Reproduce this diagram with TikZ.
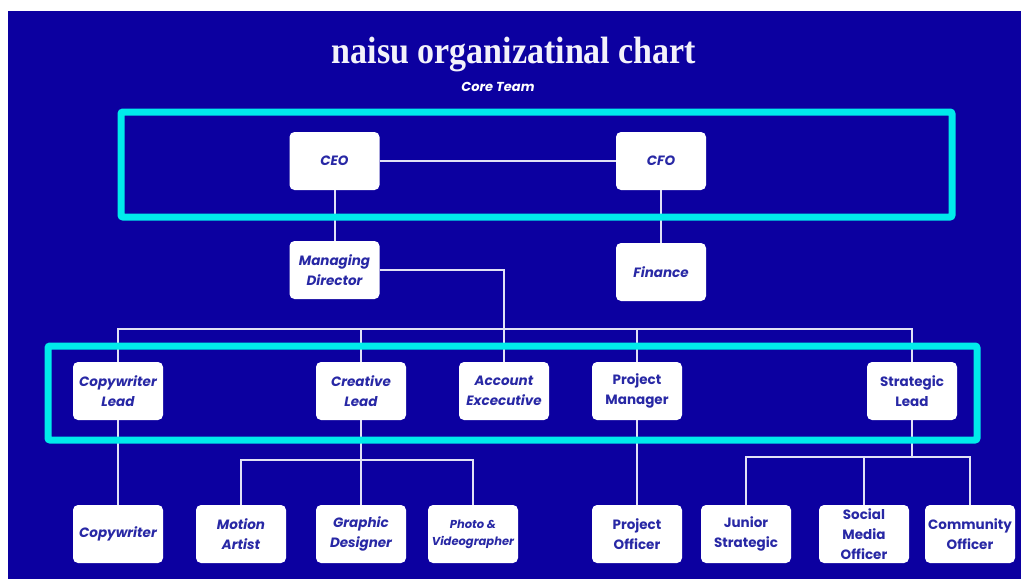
\documentclass[tikz,border=0pt]{standalone}
\usepackage{fontspec}
\usepackage{graphicx}
\newfontfamily\pop{Poppins}
\newfontfamily\ttlfont{Liberation Serif}
\definecolor{bg}{RGB}{12,0,160}
\definecolor{cyn}{RGB}{0,235,235}
\definecolor{ink}{RGB}{40,40,165}
\definecolor{wire}{RGB}{225,225,245}
\tikzset{
 box/.style={fill=white, rounded corners=5pt, minimum width=90pt, minimum height=58pt, inner sep=0pt, align=center, text=ink, font=\pop\bfseries\itshape\fontsize{13.5}{20}\selectfont},
 boxup/.style={box, font=\pop\bfseries\fontsize{13.5}{20}\selectfont},
 conn/.style={draw=wire, line width=2pt},
 frame/.style={draw=cyn, line width=7pt, rounded corners=2pt},
}
\begin{document}
\begin{tikzpicture}[x=1pt,y=-1pt]
\useasboundingbox (0,0) rectangle (1021,579);
\fill[white] (0,0) rectangle (1021,579);
\fill[bg] (8,11) rectangle (1021,579);
\node[anchor=base, text=white!95!bg, font=\ttlfont\bfseries\fontsize{34}{36}\selectfont] (title) at (514,63) {\scalebox{1}[1.12]{naisu organizatinal chart}};
\node[anchor=base, text=white, font=\pop\bfseries\itshape\fontsize{13}{14}\selectfont] (sub) at (498,91) {Core Team};
% nodes
\node[box] (ceo) at (334.5,161) {CEO};
\node[box] (cfo) at (661,161) {CFO};
\node[box] (md) at (334.5,270) {Managing\\Director};
\node[box] (fin) at (661,272) {Finance};
\node[box] (cwl) at (118,391) {Copywriter\\Lead};
\node[box] (cl) at (361,391) {Creative\\Lead};
\node[box] (ae) at (504,391) {Account\\Excecutive};
\node[boxup] (pm) at (637,391) {Project\\Manager};
\node[boxup] (sl) at (912,391) {Strategic\\Lead};
\node[box] (cw) at (118,534) {Copywriter};
\node[box] (ma) at (241,534) {Motion\\Artist};
\node[box] (gd) at (361,534) {Graphic\\Designer};
\node[box, font=\pop\bfseries\itshape\fontsize{11.5}{17}\selectfont] (pv) at (473,534) {Photo \&\\Videographer};
\node[boxup] (po) at (637,534) {Project\\Officer};
\node[boxup] (js) at (746,534) {Junior\\Strategic};
\node[boxup] (smo) at (864,534) {Social\\Media\\Officer};
\node[boxup] (co) at (970,534) {Community\\Officer};
% connectors
\coordinate (bus) at (500,329);
\coordinate (cbus) at (361,460);
\coordinate (sbus) at (910,457);
\draw[conn] (ceo) -- (cfo);
\draw[conn] (ceo) -- (md);
\draw[conn] (cfo) -- (fin);
\draw[conn] (md.east) -| (ae.north);
\draw[conn] (cwl.north) |- (bus) -| (sl.north);
\draw[conn] (cl.north) -- (cl.north |- bus);
\draw[conn] (pm.north) -- (pm.north |- bus);
\draw[conn] (cwl) -- (cw);
\draw[conn] (cl) -- (gd);
\draw[conn] (ma.north) |- (cbus) -| (pv.north);
\draw[conn] (pm) -- (po);
\draw[conn] (sl.south) -- (sl.south |- sbus);
\draw[conn] (js.north) |- (sbus) -| (co.north);
\draw[conn] (smo.north) -- (smo.north |- sbus);
% frames
\draw[frame] (121,112) rectangle (952,217);
\draw[frame] (48,346) rectangle (977,440);
\end{tikzpicture}
\end{document}
